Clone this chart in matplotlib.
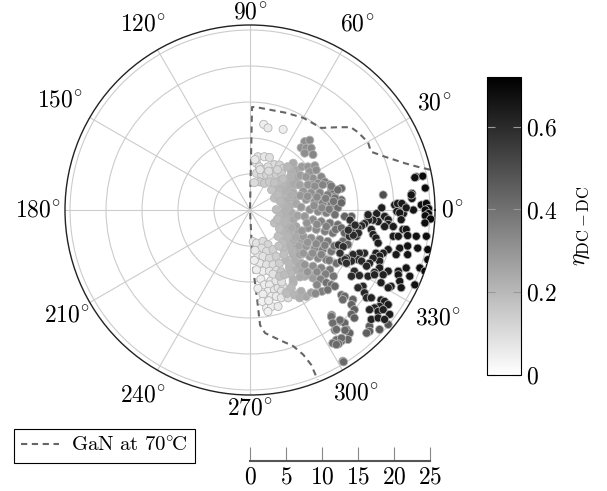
import numpy as np
import matplotlib
matplotlib.use("Agg")
import matplotlib.pyplot as plt
from matplotlib.lines import Line2D

plt.rcParams["font.family"] = "serif"
plt.rcParams["font.serif"] = ["cmr10"]
plt.rcParams["mathtext.fontset"] = "cm"
plt.rcParams["axes.formatter.use_mathtext"] = True

# ------------------------------
# Data: operating points as (x, y, eta) in radial units
# ------------------------------
light_pts = [
    (1.9, 11.9, .05), (2.5, 11.4, .06), (4.6, 11.2, .05),
    (1.1, 7.4, .08), (2.0, 7.4, .07), (2.7, 7.3, .09), (3.4, 6.3, .10), (0.9, 6.5, .06),
    (1.3, 6.0, .08), (1.8, 5.6, .10), (2.5, 6.0, .09), (3.2, 5.3, .12), (4.1, 6.25, .12),
    (4.6, 5.8, .13), (0.9, 5.1, .10), (1.6, 4.9, .11), (2.3, 4.9, .12), (3.0, 4.6, .13),
    (3.65, 4.9, .14), (4.35, 5.1, .15), (1.35, 3.9, .14), (2.0, 3.7, .15), (2.7, 3.9, .15),
    (0.6, 3.8, .10), (1.4, 5.6, .08), (2.6, 5.4, .10), (3.8, 5.6, .12), (0.7, 7.0, .06),
    (0.45, -4.4, .06), (0.9, -4.6, .08), (1.8, -4.35, .10), (2.5, -4.8, .12), (1.6, -5.3, .09),
    (2.3, -5.75, .10), (3.2, -5.5, .13), (1.1, -6.2, .07), (1.8, -6.45, .08), (2.7, -6.7, .11),
    (3.65, -6.45, .14), (1.35, -7.4, .06), (2.3, -7.6, .08), (3.2, -7.6, .10), (4.1, -7.4, .14),
    (1.8, -8.5, .05), (2.7, -8.5, .07), (3.65, -8.4, .09), (0.9, -8.3, .05), (1.5, -9.6, .05),
    (2.9, -9.8, .06), (2.0, -10.4, .05), (2.7, -10.4, .06), (2.5, -11.3, .05), (3.4, -11.1, .07),
    (3.9, -10.8, .08), (4.6, -10.6, .10), (4.35, -11.3, .08), (5.0, -11.5, .10), (3.0, -12.0, .05),
    (3.65, -12.0, .06), (4.35, -12.2, .07), (5.3, -12.2, .10), (2.3, -13.6, .04), (3.0, -13.4, .05),
    (3.9, -13.4, .06), (2.5, -14.1, .04), (0.7, -5.6, .07), (0.6, -7.0, .05), (1.1, -10.9, .05),
    (1.8, -11.7, .05), (1.7, -12.7, .04), (2.6, -12.6, .05), (3.6, -9.8, .07), (4.4, -10.0, .09),
    (3.2, -8.9, .08),
]

lightgray_pts = [
    (3.65, 3.5, .20), (4.6, 3.5, .21), (5.5, 3.3, .23), (6.4, 3.5, .25), (4.1, 2.6, .20),
    (5.0, 2.6, .22), (6.0, 2.4, .24), (3.4, 1.65, .19), (4.35, 1.65, .21), (5.3, 1.45, .23),
    (6.2, 1.65, .25), (4.6, 0.75, .21), (5.5, 0.5, .23), (3.65, 0.05, .19), (4.8, -0.2, .22),
    (5.75, -0.4, .24), (4.1, -0.9, .20), (5.0, -1.1, .22), (6.0, -1.35, .25), (3.4, -1.8, .18),
    (4.35, -2.0, .20), (5.3, -2.3, .23), (6.4, -2.3, .26), (4.6, -2.95, .21), (5.5, -3.2, .23),
    (6.7, -3.2, .26), (3.9, -3.65, .18), (5.0, -4.1, .21), (6.0, -4.35, .24), (7.1, -4.1, .27),
    (5.5, -5.05, .22), (6.4, -5.3, .25), (4.6, -5.3, .19), (6.0, -6.2, .23), (6.9, -6.2, .26),
    (5.0, -6.9, .20), (6.2, -7.1, .23), (7.1, -7.4, .26), (5.5, -8.05, .20), (6.4, -8.3, .23),
    (3.0, 2.8, .17), (3.9, 2.1, .19), (5.7, 2.0, .23), (4.2, 1.2, .20), (5.1, 0.2, .22),
    (6.4, 0.9, .25), (6.6, -0.8, .26), (3.8, -1.3, .19), (4.9, -1.6, .21), (5.8, -2.5, .24),
    (4.1, -2.6, .19), (5.2, -3.7, .21), (6.3, -3.8, .24), (4.5, -4.6, .19), (5.8, -5.7, .22),
    (6.8, -5.0, .26), (4.0, -5.0, .17), (5.4, -7.4, .20), (6.8, -7.7, .24), (4.7, -6.2, .18),
    (4.3, -8.6, .16), (5.7, -8.9, .20), (7.2, -8.5, .25),
    (6.0, 6.5, .24), (6.4, 5.55, .25), (5.75, 5.3, .23), (4.8, 3.8, .20), (5.5, 3.9, .22),
    (4.1, 4.0, .18), (3.4, 3.8, .17), (6.4, 4.4, .25), (6.0, 3.7, .24), (6.9, 3.5, .26),
    (5.2, 6.0, .20), (5.6, 4.6, .22), (7.0, 4.8, .27), (4.6, 4.3, .18), (7.2, 6.0, .28),
    (6.0, -10.1, .22), (5.7, -10.8, .20), (6.2, -11.8, .21), (6.9, -12.2, .23), (7.8, -12.0, .25),
    (8.5, -11.5, .27), (7.1, -11.3, .24), (4.1, -9.2, .17), (4.8, -9.0, .19), (7.6, -9.2, .25),
    (8.3, -9.0, .27), (8.75, -9.45, .28), (6.0, -9.7, .22), (6.95, -9.3, .24), (5.1, -11.6, .19),
]

gray_pts = [
    (7.6, 9.5, .32), (8.3, 9.7, .33), (7.1, 8.65, .31), (7.8, 8.6, .32), (8.5, 8.6, .33),
    (7.6, 7.9, .32), (8.75, 7.7, .34), (8.05, 6.0, .30), (9.0, 6.15, .31), (8.3, 5.3, .30),
    (9.2, 5.55, .32), (9.9, 4.6, .34), (8.75, 4.4, .31), (7.8, 4.6, .29), (10.4, 3.9, .36),
    (9.45, 3.7, .33), (8.5, 3.55, .31), (11.1, 3.5, .38), (12.7, 3.0, .42), (11.3, 2.8, .40),
    (11.8, 1.85, .41), (12.7, 1.4, .43), (10.9, 1.15, .39), (18.5, 2.1, .50),
    (8.05, 3.5, .30), (9.0, 3.3, .32), (10.1, 3.5, .35), (11.3, 3.3, .38), (12.2, 2.8, .41),
    (7.4, 2.6, .29), (8.5, 2.4, .31), (9.7, 2.4, .34), (10.8, 2.1, .37), (11.8, 1.65, .40),
    (7.8, 1.45, .30), (9.0, 1.2, .32), (10.1, 1.0, .35), (11.3, 0.75, .38), (12.2, 0.3, .41),
    (8.3, 0.05, .31), (9.45, -0.2, .33), (10.6, -0.4, .36), (11.8, -0.65, .40), (7.6, -0.9, .29),
    (8.75, -1.35, .32), (9.9, -1.6, .35), (11.1, -1.8, .38), (12.2, -2.05, .41), (8.05, -2.5, .31),
    (9.2, -2.7, .33), (10.4, -2.95, .36), (11.5, -3.2, .39), (7.4, -3.65, .29), (8.5, -3.9, .32),
    (9.7, -4.1, .35), (10.8, -4.35, .38), (7.8, -5.05, .30), (9.0, -5.3, .33), (10.1, -5.5, .36),
    (11.3, -5.75, .39), (8.3, -6.45, .31), (9.45, -6.7, .34), (10.6, -6.9, .37), (7.6, -7.6, .30),
    (8.75, -7.8, .32), (9.9, -8.05, .35), (11.1, -8.3, .38), (12.0, -7.4, .41),
    (7.0, 2.0, .29), (8.0, 1.9, .31), (9.3, 1.8, .33), (10.5, 1.6, .36), (11.6, 1.2, .39),
    (7.1, 0.4, .29), (8.9, 0.6, .32), (10.0, 0.3, .34), (11.0, 0.1, .37), (7.9, -1.8, .30),
    (9.3, -2.0, .33), (10.6, -2.3, .36), (11.9, -2.7, .40), (7.2, -2.9, .29), (8.0, -4.5, .30),
    (9.2, -4.7, .33), (10.4, -4.9, .36), (11.7, -5.0, .40), (7.4, -6.0, .29), (8.7, -6.0, .32),
    (9.9, -6.2, .35), (11.0, -7.0, .38), (8.0, -8.6, .30), (9.3, -8.6, .33), (10.5, -8.9, .36),
    (11.6, -9.2, .39), (9.8, -9.6, .35), (9.3, -10.4, .34), (10.0, -11.3, .36), (9.1, -11.6, .33),
    (12.7, 1.0, .43), (14.1, -0.9, .45), (13.15, -0.9, .44), (12.7, -2.5, .43), (13.15, -3.2, .44),
    (12.9, -4.35, .43), (13.6, -4.8, .45),
    (12.7, -11.8, .42), (13.15, -12.0, .43), (12.9, -12.45, .42), (14.3, -12.45, .44),
    (14.1, -13.15, .44), (14.5, -13.85, .45), (14.1, -14.5, .44), (14.5, -15.0, .45),
    (12.7, -15.5, .42), (13.15, -15.7, .43), (13.4, -16.6, .43), (13.85, -17.1, .44),
    (13.6, -18.0, .43), (12.7, -18.2, .42), (16.6, -16.15, .46), (16.6, -16.85, .46),
    (16.2, -17.1, .45), (18.0, -16.6, .47), (19.2, -15.9, .48), (12.9, -21.0, .42),
    (11.35, -14.6, .41), (12.5, -15.3, .42), (11.8, -16.7, .41), (13.2, -16.7, .43),
    (12.0, -18.05, .41), (12.7, -17.8, .42), (12.3, -18.6, .42), (13.0, -21.1, .42),
    (10.6, -10.1, .40), (11.3, -10.4, .41), (10.8, -11.1, .40), (11.8, -10.6, .42),
    (11.3, -14.8, .41), (11.5, -15.7, .41), (12.0, -16.6, .42), (11.5, -18.5, .41), (12.0, -18.7, .42),
]

dark_pts = [
    (23.1, 4.6, .68), (24.0, 4.7, .69), (22.9, 4.5, .67), (22.5, 2.3, .66), (22.5, 1.6, .66),
    (23.8, 0.7, .68), (24.5, 0.9, .69), (24.8, 0.2, .69), (22.7, 0.0, .66), (20.1, 0.7, .64),
    (20.8, 0.7, .65), (21.5, 0.5, .65), (20.4, -0.2, .64), (21.3, -0.5, .65), (16.4, -0.9, .62),
    (17.6, -0.5, .63), (18.75, -0.9, .63),
    (24.35, 3.05, .69), (22.4, 2.1, .66), (20.5, 0.9, .64), (21.1, 0.9, .65), (21.7, 0.3, .65),
    (18.3, 0.3, .63), (24.35, 0.0, .69), (24.8, -0.5, .69), (24.35, -0.8, .68), (25.1, -1.25, .70),
    (20.8, -0.4, .65), (21.0, -1.35, .65), (18.7, -0.9, .63), (19.2, -1.35, .64), (19.2, -2.0, .64),
    (17.8, -1.6, .63), (17.1, -1.4, .62), (16.5, -1.4, .62), (15.9, -1.9, .61), (15.5, -2.2, .61),
    (15.0, -2.5, .60), (14.1, -2.4, .60), (14.3, -3.2, .60), (13.8, -3.65, .59), (14.8, -3.65, .60),
    (16.4, -0.65, .62), (16.85, -2.7, .62), (17.1, -3.4, .62), (17.5, -3.9, .63), (17.8, -4.6, .63),
    (18.7, -2.3, .63), (19.9, -2.3, .64), (19.9, -3.65, .64), (20.6, -3.65, .65), (21.25, -2.7, .65),
    (21.7, -2.7, .66), (21.9, -3.55, .66), (23.1, -3.65, .67), (24.3, -1.8, .68), (24.5, -3.65, .68),
    (20.8, -5.3, .65), (20.3, -6.2, .65), (19.2, -5.5, .64), (18.5, -6.0, .63), (17.5, -6.0, .63),
    (18.0, -6.4, .63), (18.0, -7.1, .63), (17.1, -6.7, .62), (16.6, -7.4, .62), (15.9, -6.0, .61),
    (15.2, -6.0, .61), (15.0, -6.9, .60), (15.5, -7.1, .61), (14.3, -6.2, .60), (14.1, -7.1, .60),
    (13.4, -6.7, .59), (12.7, -7.1, .58), (21.9, -5.0, .66), (21.9, -6.2, .66), (23.3, -5.3, .67),
    (24.7, -5.5, .69), (24.7, -6.9, .69), (23.6, -8.05, .68), (21.7, -8.05, .66), (20.6, -8.5, .65),
    (19.2, -8.5, .64), (18.0, -8.05, .63), (17.3, -8.65, .62), (16.2, -7.8, .62), (14.5, -8.5, .60),
    (24.3, -8.5, .69),
    (14.1, -9.2, .60), (15.2, -9.1, .61), (16.4, -9.2, .62), (17.3, -9.0, .62), (18.5, -9.0, .63),
    (20.6, -9.0, .65), (22.2, -9.2, .66), (22.9, -10.4, .67), (20.8, -9.9, .65), (21.0, -10.8, .65),
    (19.6, -10.6, .64), (19.2, -10.8, .64), (18.2, -10.1, .63), (15.7, -10.6, .61), (15.0, -10.8, .60),
    (15.9, -11.5, .61), (16.2, -12.2, .61), (16.85, -12.2, .62), (18.2, -12.5, .63), (18.7, -12.7, .63),
    (19.2, -13.15, .64), (18.0, -13.4, .63), (17.3, -13.6, .62), (16.6, -13.85, .62), (17.8, -14.1, .63),
    (18.5, -13.85, .63), (19.4, -14.5, .64), (16.85, -15.2, .62), (17.8, -15.0, .63), (18.7, -15.2, .63),
    (12.3, -4.85, .58), (12.95, -5.1, .59), (12.5, -6.0, .58), (13.2, -6.9, .59), (13.4, -7.4, .59),
    (13.9, -1.4, .59), (14.6, -2.1, .60), (15.05, -3.2, .60), (14.35, -3.5, .60), (13.65, -2.8, .59),
]

# GaN at 70 degC boundary (x, y components)
gan_x = [25.0, 23.3, 21.5, 18.75, 16.8, 16.4, 15.0, 14.0, 12.2, 9.9, 7.4, 5.0, 0.8, 0.28,
         0.0, 0.28, 0.55, 1.0, 1.4, 2.1, 4.2, 6.0, 7.4, 8.5, 9.4]
gan_y = [5.6, 6.0, 6.5, 7.4, 8.1, 9.4, 10.8, 11.5, 11.5, 11.4, 12.8, 13.5, 14.3, 14.3,
         0.0, -5.6, -9.0, -12.5, -16.0, -17.1, -18.1, -18.9, -20.1, -21.5, -23.6]

theta_ticks = [0, 30, 60, 90, 120, 150, 180, 210, 240, 270, 300, 330]
r_ticks = [0, 5, 10, 15, 20, 25]
cbar_ticks = [0, 0.2, 0.4, 0.6]

# ------------------------------
# Figure
# ------------------------------
W, H = 607, 491
fig = plt.figure(figsize=(W / 100, H / 100), dpi=100)
ax = fig.add_axes([65 / W, 1 - 395 / H, 370 / W, 370 / H], projection="polar")

pts = np.array(light_pts + lightgray_pts + gray_pts + dark_pts)
theta = np.arctan2(pts[:, 1], pts[:, 0])
r = np.hypot(pts[:, 0], pts[:, 1])
sc = ax.scatter(theta, r, c=pts[:, 2], cmap="gray_r", vmin=0, vmax=0.72,
                s=34, edgecolors="#b4b4b4", linewidths=0.6, zorder=3)

gx, gy = np.array(gan_x), np.array(gan_y)
ax.plot(np.arctan2(gy, gx), np.hypot(gx, gy), ls=(0, (3, 2.2)), color="#666666",
        lw=1.5, zorder=2)

rmax = 25.7
ax.set_ylim(0, rmax)
ax.set_yticks(r_ticks[1:])
ax.set_yticklabels([])
ax.set_xticks(np.deg2rad(theta_ticks))
ax.set_xticklabels([])
ax.grid(True, color="#cccccc", lw=0.8)
ax.spines["polar"].set_color("#222222")
ax.spines["polar"].set_linewidth(1.0)

# angle labels sit a bit further out on the diagonals (edge-anchored look)
label_r = [28.1, 29.5, 29.7, 27.4, 29.7, 30.5, 29.4, 29.3, 29.7, 27.5, 29.5, 30.1]
for t, lr in zip(theta_ticks, label_r):
    ax.text(np.deg2rad(t), lr, rf"${t}^{{\!\circ}}$", fontsize=17,
            ha="center", va="center", clip_on=False)

# colorbar
cax = fig.add_axes([487 / W, 1 - 375 / H, 34 / W, 298 / H])
cb = fig.colorbar(sc, cax=cax)
cb.set_ticks(cbar_ticks)
cb.set_ticklabels([r"$0$", r"$0.2$", r"$0.4$", r"$0.6$"])
cb.outline.set_linewidth(0.8)
cax.tick_params(axis="y", which="both", direction="in", length=6, width=0.8,
                colors="#999999", labelcolor="black", labelsize=17, left=True, right=True)
cb.set_label(r"$\eta_{\mathrm{DC-DC}}$", fontsize=17, labelpad=9)

# radial scale below the plot
rax = fig.add_axes([250 / W, 1 - 461 / H, 180 / W, 20 / H])
rax.set_xlim(0, 25)
rax.set_ylim(0, 1)
for s in ["left", "right", "top"]:
    rax.spines[s].set_visible(False)
rax.spines["bottom"].set_color("#555555")
rax.spines["bottom"].set_linewidth(1.5)
rax.set_yticks([])
rax.set_xticks(r_ticks)
rax.set_xticklabels([rf"${t}$" for t in r_ticks], fontsize=17)
rax.tick_params(axis="x", direction="in", length=10, width=0.8, color="#888888", pad=4)
rax.patch.set_visible(False)

# legend
handle = Line2D([], [], ls=(0, (3, 2.2)), color="#666666", lw=1.5)
leg = fig.legend([handle], [r"$\mathrm{GaN\ at\ 70^{\circ}\!C}$"], loc="lower left",
                 bbox_to_anchor=(14 / W, 1 - 463 / H), borderaxespad=0, fontsize=15,
                 fancybox=False, edgecolor="black", framealpha=1, handlelength=1.8,
                 borderpad=0.35, handletextpad=0.6)
leg.get_frame().set_linewidth(0.8)

fig.savefig("out.png", dpi=100)
